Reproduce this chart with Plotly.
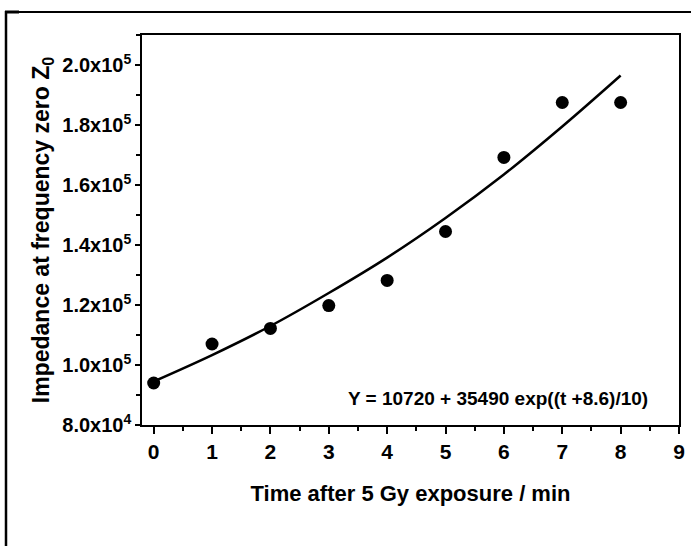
import plotly.graph_objects as go

# Measured data
t_data = [0, 1, 2, 3, 4, 5, 6, 7, 8]
z_data = [94000, 107000, 112200, 119800, 128200, 144500, 169200, 187500, 187500]

# Fitted curve
t_fit = [0, 1, 2, 3, 4, 5, 6, 7, 8]
z_fit = [94500, 103300, 113000, 124000, 135800, 149000, 163500, 179500, 196500]

y_tickvals = [80000, 100000, 120000, 140000, 160000, 180000, 200000]
y_ticktext = ["8.0x10<sup>4</sup>", "1.0x10<sup>5</sup>", "1.2x10<sup>5</sup>",
              "1.4x10<sup>5</sup>", "1.6x10<sup>5</sup>", "1.8x10<sup>5</sup>",
              "2.0x10<sup>5</sup>"]
x_tickvals = [0, 1, 2, 3, 4, 5, 6, 7, 8, 9]

equation = "Y = 10720 + 35490 exp((t +8.6)/10)"

FONT = "Liberation Sans, Arial, sans-serif"

fig = go.Figure()
fig.add_trace(go.Scatter(x=t_fit, y=z_fit, mode="lines",
                         line=dict(color="black", width=2.5, shape="spline"),
                         showlegend=False, hoverinfo="skip"))
fig.add_trace(go.Scatter(x=t_data, y=z_data, mode="markers",
                         marker=dict(color="black", size=13, symbol="circle"),
                         showlegend=False))

fig.update_layout(
    template="none",
    width=691, height=546, autosize=False,
    margin=dict(l=142, r=12, t=35, b=121, pad=0),
    paper_bgcolor="white", plot_bgcolor="white",
    font=dict(family=FONT, color="black", size=18, weight="bold"),
    xaxis=dict(range=[-0.2, 9], tickvals=x_tickvals, ticks="outside", ticklen=7,
               tickwidth=1.5, tickcolor="black", showgrid=False, zeroline=False,
               showline=True, automargin=False,
               linecolor="black", linewidth=1.5, mirror=True,
               tickfont=dict(size=21, family=FONT, weight="bold"),
               minor=dict(dtick=0.5, ticks="outside", ticklen=4, tickwidth=1.5,
                          tickcolor="black", showgrid=False),
               title=dict(text="Time after 5 Gy exposure / min", standoff=24,
                          font=dict(size=22, family=FONT, weight="bold"))),
    yaxis=dict(range=[80000, 210000], tickvals=y_tickvals, ticktext=y_ticktext,
               ticks="outside", ticklen=5, tickwidth=1.5, tickcolor="black",
               showgrid=False, automargin=False,
               zeroline=False, showline=True, linecolor="black", linewidth=1.5,
               mirror=True,
               tickfont=dict(size=20, family=FONT, weight="bold"),
               minor=dict(dtick=10000, ticks="outside", ticklen=4, tickwidth=1.5,
                          tickcolor="black", showgrid=False),
               title=dict(text="Impedance at frequency zero Z<sub>0</sub>", standoff=6,
                          font=dict(size=23, family=FONT, weight="bold"))),
    annotations=[dict(text=equation, xref="paper", yref="paper",
                      x=(498 - 142) / 537, y=(425 - 398) / 390,
                      xanchor="center", yanchor="middle", showarrow=False,
                      font=dict(size=19, family=FONT, weight="bold", color="black"))],
    shapes=[
        dict(type="line", xref="paper", yref="paper",
             x0=-136 / 537, x1=549 / 537, y0=(425 - 12) / 390, y1=(425 - 12) / 390,
             line=dict(color="black", width=2)),
        dict(type="line", xref="paper", yref="paper",
             x0=-136 / 537, x1=-136 / 537, y0=(425 - 11) / 390, y1=(425 - 546) / 390,
             line=dict(color="black", width=2.5)),
        dict(type="line", xref="paper", yref="paper",
             x0=-137 / 537, x1=-123 / 537, y0=(425 - 12) / 390, y1=(425 - 12) / 390,
             line=dict(color="black", width=3)),
    ],
)

fig.write_html("out.html", config={"displayModeBar": False},
               post_script="document.body.style.margin='0px';document.body.style.overflow='hidden';")
